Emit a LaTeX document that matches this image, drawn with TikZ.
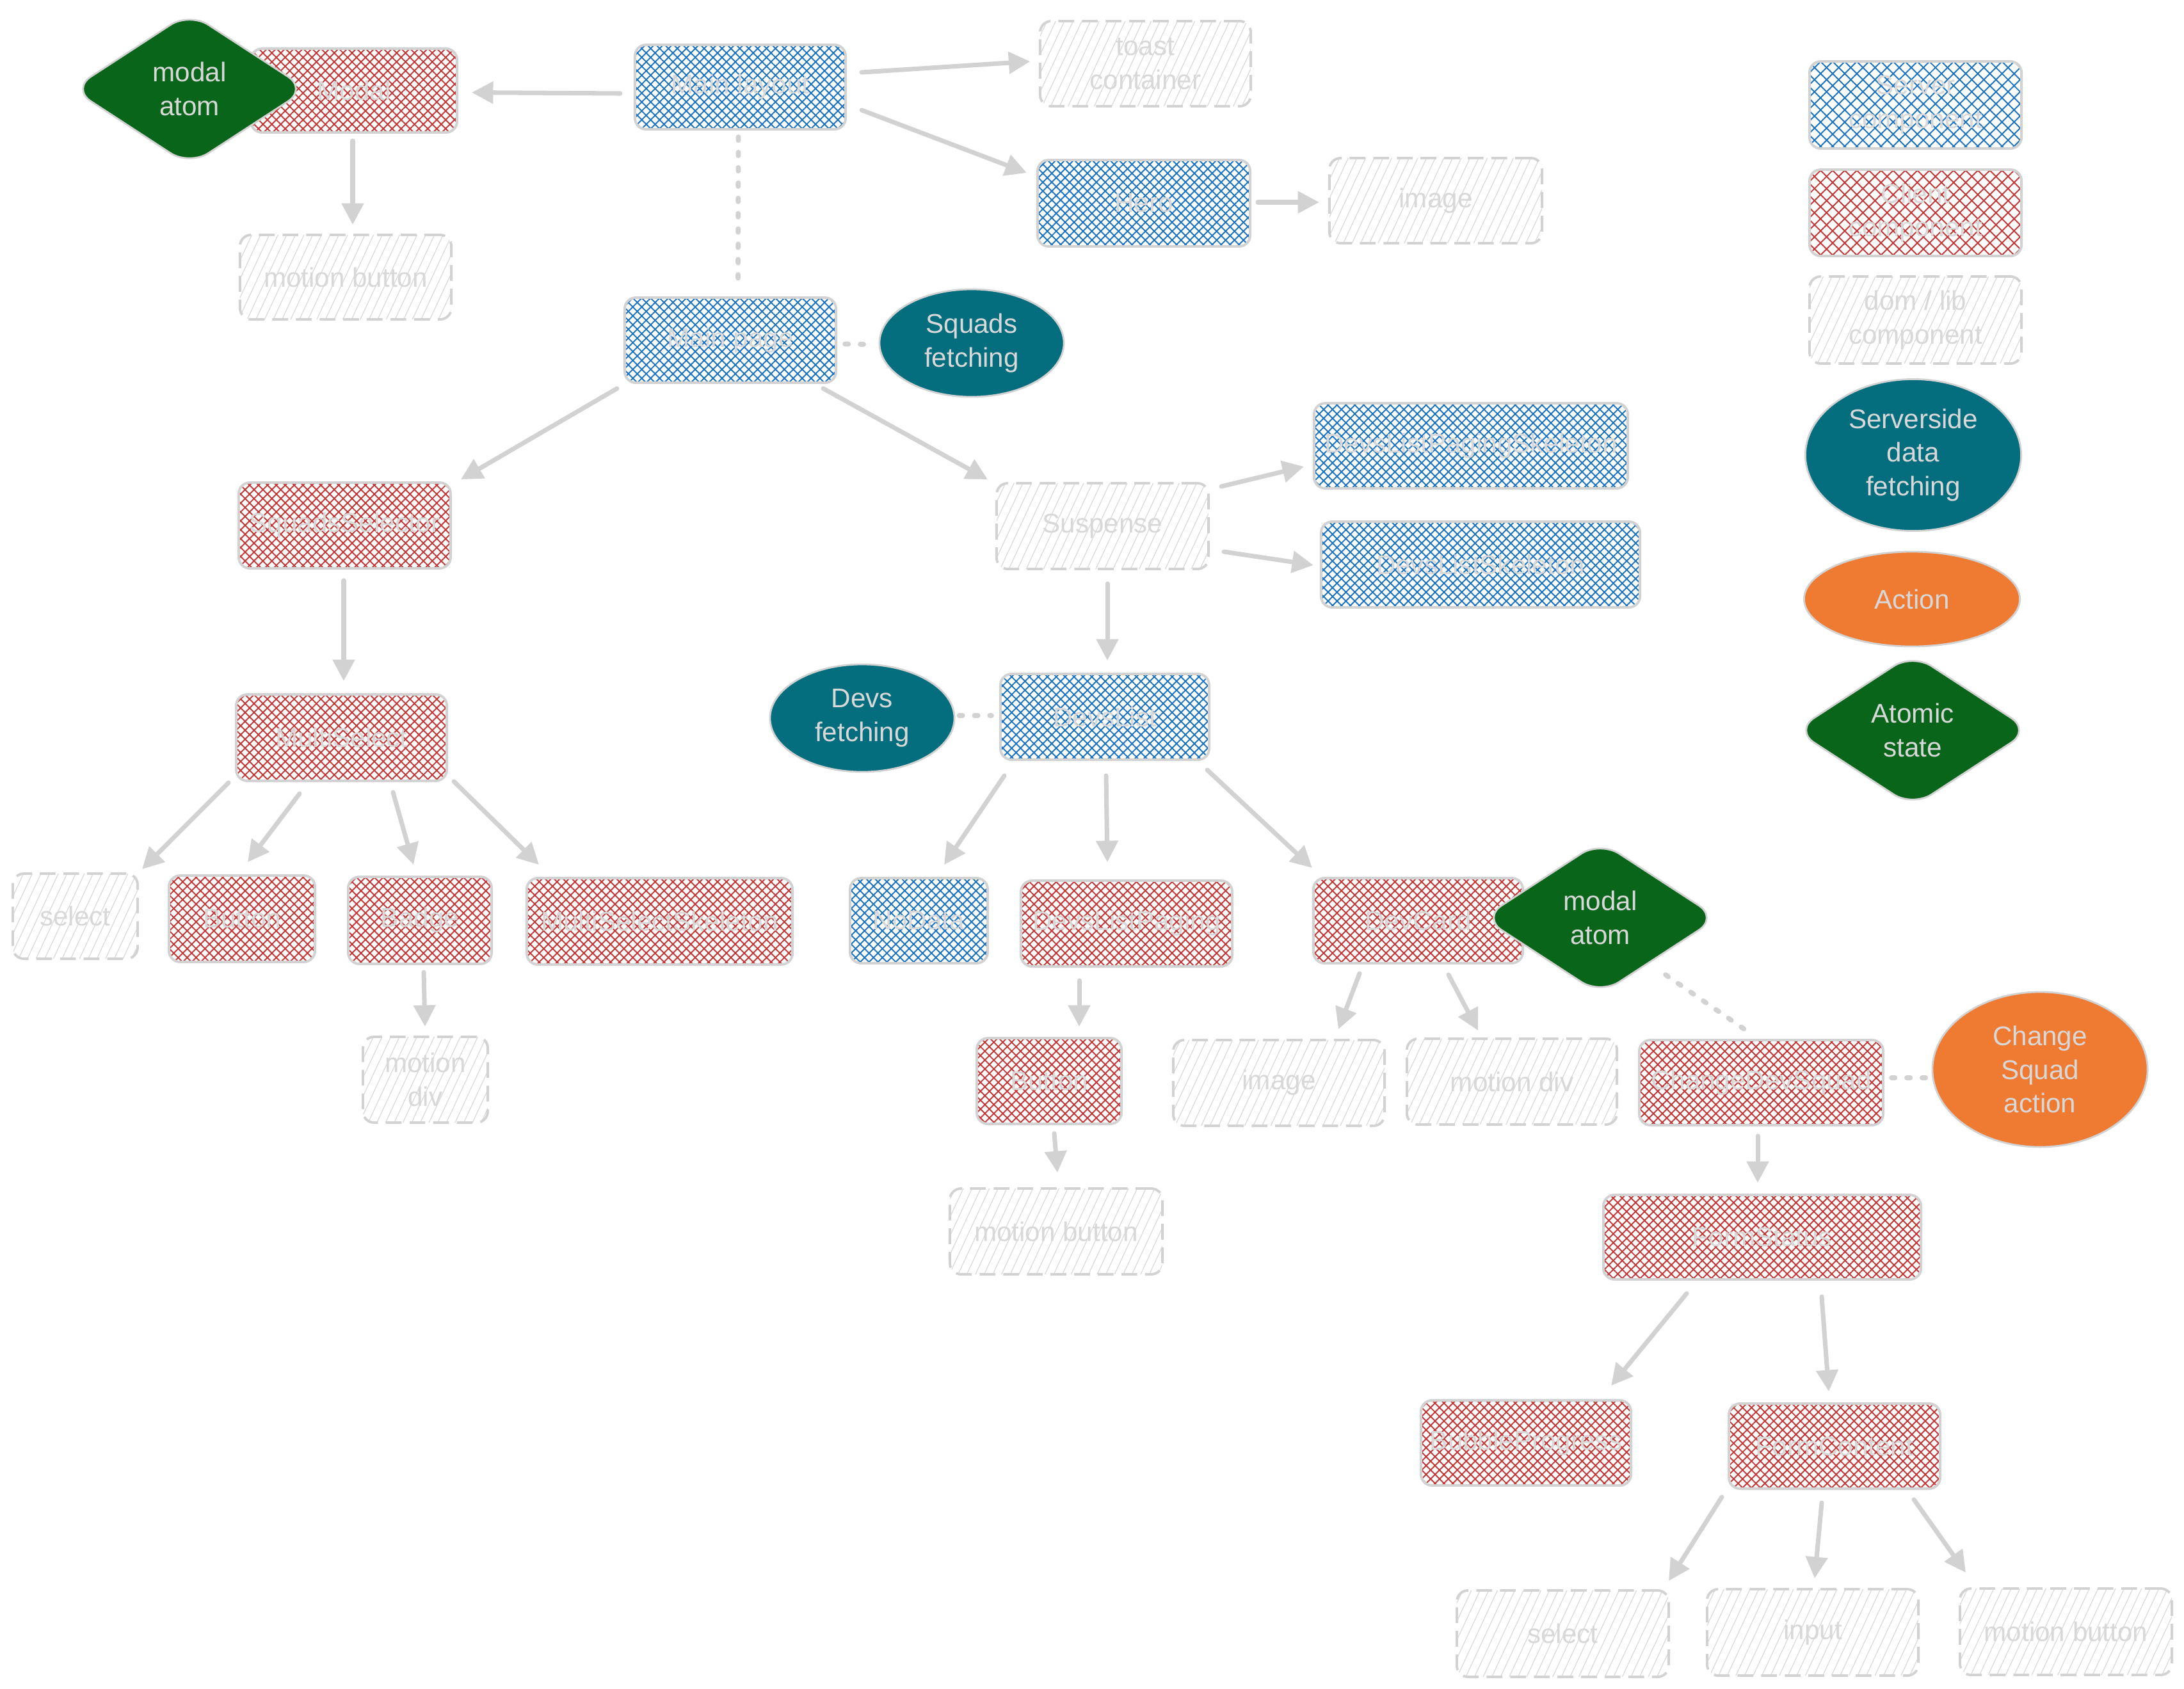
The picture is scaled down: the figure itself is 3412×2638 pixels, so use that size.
\documentclass[tikz,border=0pt]{standalone}
\usepackage{fontspec}
\setmainfont{Liberation Sans}
\usetikzlibrary{shapes.geometric,patterns.meta,arrows.meta,calc}
\definecolor{bgray}{HTML}{D2D2D2}
\definecolor{tgray}{HTML}{D8D8D8}
\definecolor{hblue}{HTML}{1971C2}
\definecolor{hred}{HTML}{C53535}
\definecolor{hgray}{HTML}{D9D9D9}
\definecolor{tealc}{HTML}{046E7E}
\definecolor{orangec}{HTML}{EF7A32}
\definecolor{greenc}{HTML}{09651A}
\tikzset{
  base/.style={rectangle, rounded corners=5pt, draw=bgray, line width=1.1pt, text=tgray,
    font=\fontsize{12}{15}\selectfont, align=center, inner sep=0pt},
  server/.style={base,
    preaction={pattern={Lines[angle=45,distance=2.8pt,line width=.55pt]}, pattern color=hblue},
    pattern={Lines[angle=-45,distance=2.8pt,line width=.55pt]}, pattern color=hblue},
  client/.style={base,
    preaction={pattern={Lines[angle=45,distance=2.8pt,line width=.55pt]}, pattern color=hred},
    pattern={Lines[angle=-45,distance=2.8pt,line width=.55pt]}, pattern color=hred},
  serverleg/.style={base,
    preaction={pattern={Lines[angle=45,distance=3.8pt,line width=.55pt]}, pattern color=hblue},
    pattern={Lines[angle=-45,distance=3.8pt,line width=.55pt]}, pattern color=hblue},
  clientleg/.style={base,
    preaction={pattern={Lines[angle=45,distance=3.8pt,line width=.55pt]}, pattern color=hred},
    pattern={Lines[angle=-45,distance=3.8pt,line width=.55pt]}, pattern color=hred},
  dom/.style={base, dash pattern=on 7pt off 3.5pt,
    pattern={Lines[angle=65,distance=3.5pt,line width=.35pt]}, pattern color=hgray},
  fetchell/.style={ellipse, fill=tealc, draw=bgray, line width=.8pt, inner sep=0pt, text=tgray,
    font=\fontsize{12}{15}\selectfont, align=center},
  actell/.style={fetchell, fill=orangec},
  atomdia/.style={diamond, aspect=1.55, fill=greenc, draw=bgray, line width=.8pt, rounded corners=10pt,
    inner sep=0pt, text=tgray, font=\fontsize{12}{15}\selectfont, align=center},
  arr/.style={draw=bgray, line width=2pt, line cap=round, -{Triangle[length=9.5pt,width=9.5pt]}},
  dots/.style={draw=bgray, line width=2.2pt, line cap=round, dash pattern=on 1.5pt off 5.3pt}
}
\begin{document}
\begin{tikzpicture}[x=0.01cm,y=-0.01cm]
\fill[white] (0,0) rectangle (3412,2638);
\useasboundingbox (0,0) rectangle (3412,2638);

% server components
\node[server, minimum width=3.29cm, minimum height=1.32cm] (mainlayout) at (1156.5,136) {Main layout};
\node[server, minimum width=3.32cm, minimum height=1.35cm] (hero) at (1787,317.5) {Hero};
\node[server, minimum width=3.30cm, minimum height=1.33cm] (mainpage) at (1141,531.5) {Main page};
\node[server, minimum width=4.90cm, minimum height=1.33cm] (dlps) at (2298,696.5) {DevsListPagingSkeleton};
\node[server, minimum width=4.98cm, minimum height=1.34cm] (dls) at (2313,882) {DevsListSkeleton};
\node[server, minimum width=3.26cm, minimum height=1.34cm] (devslist) at (1726,1120) {DevsList};
\node[server, minimum width=2.15cm, minimum height=1.33cm] (nodata) at (1435.5,1438.5) {NoData};

% client components
\node[client, minimum width=3.22cm, minimum height=1.31cm] (modal) at (553,141.5) {Modal};
\node[client, minimum width=3.31cm, minimum height=1.34cm] (squadssel) at (538.5,821) {SquadsSelector};
\node[client, minimum width=3.29cm, minimum height=1.35cm] (multiselect) at (533.5,1152.5) {MultiSelect};
\node[client, minimum width=2.28cm, minimum height=1.35cm] (button1) at (378,1435.5) {Button};
\node[client, minimum width=2.24cm, minimum height=1.36cm] (badge) at (656,1438) {Badge};
\node[client, minimum width=4.15cm, minimum height=1.35cm] (mss) at (1030.5,1439.5) {MultiSelectSkeleton};
\node[client, minimum width=3.30cm, minimum height=1.34cm] (dlp) at (1760,1443) {DevsListPaging};
\node[client, minimum width=3.27cm, minimum height=1.33cm] (devcard) at (2215.5,1438.5) {DevCard};
\node[client, minimum width=2.26cm, minimum height=1.34cm] (button2) at (1639,1689) {Button};
\node[client, minimum width=3.81cm, minimum height=1.33cm] (cds) at (2751.5,1691.5) {ChangeDevSquad};
\node[client, minimum width=4.96cm, minimum height=1.32cm] (formstatus) at (2753,1933) {FormStatus};
\node[client, minimum width=3.28cm, minimum height=1.33cm] (bubble) at (2384,2254.5) {BubbleProgress};
\node[client, minimum width=3.30cm, minimum height=1.33cm] (formcontent) at (2866,2259.5) {FormContent};

% dom / lib components
\node[dom, minimum width=3.29cm, minimum height=1.33cm] (toast) at (1789.5,99.5) {toast\\container};
\node[dom, minimum width=3.32cm, minimum height=1.33cm] (image1) at (2243,313.5) {image};
\node[dom, minimum width=3.30cm, minimum height=1.32cm] (mbtn1) at (540,433) {motion button};
\node[dom, minimum width=3.31cm, minimum height=1.34cm] (suspense) at (1722.5,822) {Suspense};
\node[dom, minimum width=1.95cm, minimum height=1.33cm] (select1) at (117.5,1431.5) {select};
\node[dom, minimum width=1.95cm, minimum height=1.34cm] (mdiv1) at (664.5,1687) {motion\\div};
\node[dom, minimum width=3.32cm, minimum height=1.34cm] (mbtn2) at (1650,1924) {motion button};
\node[dom, minimum width=3.30cm, minimum height=1.34cm] (image2) at (1998,1692) {image};
\node[dom, minimum width=3.28cm, minimum height=1.34cm] (mdiv2) at (2362,1690) {motion div};
\node[dom, minimum width=3.31cm, minimum height=1.35cm] (select2) at (2441.5,2552.5) {select};
\node[dom, minimum width=3.30cm, minimum height=1.35cm] (input) at (2832,2550.5) {input};
\node[dom, minimum width=3.31cm, minimum height=1.35cm] (mbtn3) at (3227.5,2549.5) {motion button};

% ellipses
\node[fetchell, minimum width=2.88cm, minimum height=1.68cm] (squadsf) at (1518,536) {Squads\\fetching};
\node[fetchell, minimum width=2.88cm, minimum height=1.68cm] (devsf) at (1347,1122) {Devs\\fetching};
\node[actell, minimum width=3.36cm, minimum height=2.42cm] (csa) at (3187,1671) {Change\\Squad\\action};

% diamonds
\node[atomdia, minimum width=3.68cm, minimum height=2.40cm] (modalatom1) at (296,139) {modal\\atom};
\node[atomdia, minimum width=3.68cm, minimum height=2.40cm] (modalatom2) at (2500,1434) {modal\\atom};

% legend
\node[serverleg, minimum width=3.31cm, minimum height=1.36cm] (legserver) at (2992.5,164) {Server\\component};
\node[clientleg, minimum width=3.31cm, minimum height=1.35cm] (legclient) at (2992.5,332.5) {Client\\component};
\node[dom, minimum width=3.31cm, minimum height=1.36cm] (legdom) at (2992.5,500) {dom / lib\\component};
\node[fetchell, minimum width=3.37cm, minimum height=2.37cm] (legssdf) at (2989,711) {Serverside\\data\\fetching};
\node[actell, minimum width=3.37cm, minimum height=1.48cm] (legaction) at (2987,936) {Action};
\node[atomdia, minimum width=3.68cm, minimum height=2.40cm] (legatomic) at (2988,1141) {Atomic\\state};

% connectors
\draw[arr] ($(mainlayout.west)+(-22,10)$) -- ($(modal.east)+(21,3)$);
\draw[arr] ($(mainlayout.east)+(24,-23)$) -- ($(toast.west)+(-15,-3.5)$);
\draw[arr] ($(mainlayout.east)+(24,36)$) -- ($(hero.north west)+(-15,22)$);
\draw[arr] ($(hero.east)+(10,-1.5)$) -- ($(image1.west)+(-14,2.5)$);
\draw[arr] ($(modal.south)+(-2,11)$) -- ($(mbtn1.north)+(11,-14)$);
\draw[dots] ($(mainlayout.south)+(-3,11)$) -- ($(mainpage.north)+(12,-12)$);
\draw[dots] ($(mainpage.east)+(12,6)$) -- ($(squadsf.west)+(-22,2)$);
\draw[arr] ($(mainpage.south west)+(-10,7)$) -- ($(squadssel.north east)+(14,-3)$);
\draw[arr] ($(mainpage.south east)+(-22,7)$) -- ($(suspense.north west)+(-12,-4)$);
\draw[arr] ($(suspense.north east)+(18,7)$) -- ($(dlps.south west)+(-14,-36)$);
\draw[arr] ($(suspense.east)+(22,40)$) -- ($(dls.west)+(-10,1)$);
\draw[arr] ($(suspense.south)+(7.5,21)$) -- ($(devslist.north)+(4,-19)$);
\draw[dots] ($(devsf.east)+(6,-4)$) -- ($(devslist.west)+(-12,-2)$);
\draw[arr] ($(squadssel.south)+(-1.5,17)$) -- ($(multiselect.north)+(3.5,-19)$);
\draw[arr] ($(multiselect.south west)+(-10,1)$) -- ($(select1.north east)+(5,-5)$);
\draw[arr] ($(multiselect.south)+(-65.5,18)$) -- ($(button1.north)+(9,-19)$);
\draw[arr] ($(multiselect.south)+(80.5,16)$) -- ($(badge.north)+(-10,-17)$);
\draw[arr] ($(multiselect.south east)+(9,-1)$) -- ($(mss.north west)+(21,-19)$);
\draw[arr] ($(badge.south)+(6,11)$) -- ($(mdiv1.north)+(-0.5,-14)$);
\draw[arr] ($(devslist.south west)+(8,23)$) -- ($(nodata.north)+(39.5,-19)$);
\draw[arr] ($(devslist.south)+(2,23)$) -- ($(dlp.north)+(-30,-27)$);
\draw[arr] ($(devslist.south east)+(-5,14)$) -- ($(devcard.north west)+(0,-14)$);
\draw[arr] ($(dlp.south)+(-74,20)$) -- ($(button2.north)+(47,-16)$);
\draw[arr] ($(button2.south)+(8,13)$) -- ($(mbtn2.north)+(2,-23)$);
\draw[arr] ($(devcard.south)+(-91.5,14)$) -- ($(image2.north)+(93,-15)$);
\draw[arr] ($(devcard.south)+(47.5,16)$) -- ($(mdiv2.north)+(-53,-11)$);
\draw[dots] ($(modalatom2.center)+(102,89)$) -- ($(cds.north)+(-26.5,-15)$);
\draw[dots] ($(cds.east)+(11,-7.5)$) -- ($(csa.west)+(-5,13)$);
\draw[arr] ($(cds.south)+(-5.5,15)$) -- ($(formstatus.north)+(-7,-17)$);
\draw[arr] ($(formstatus.south)+(-118,20)$) -- ($(bubble.north east)+(-33,-21)$);
\draw[arr] ($(formstatus.south)+(93,25)$) -- ($(formcontent.north)+(-9,-17)$);
\draw[arr] ($(formcontent.south west)+(-9,11)$) -- ($(select2.north east)+(-2,-13)$);
\draw[arr] ($(formcontent.south)+(-20,20)$) -- ($(input.north)+(3,-15)$);
\draw[arr] ($(formcontent.south east)+(-43,15)$) -- ($(mbtn3.north west)+(11,-23)$);
\end{tikzpicture}
\end{document}
